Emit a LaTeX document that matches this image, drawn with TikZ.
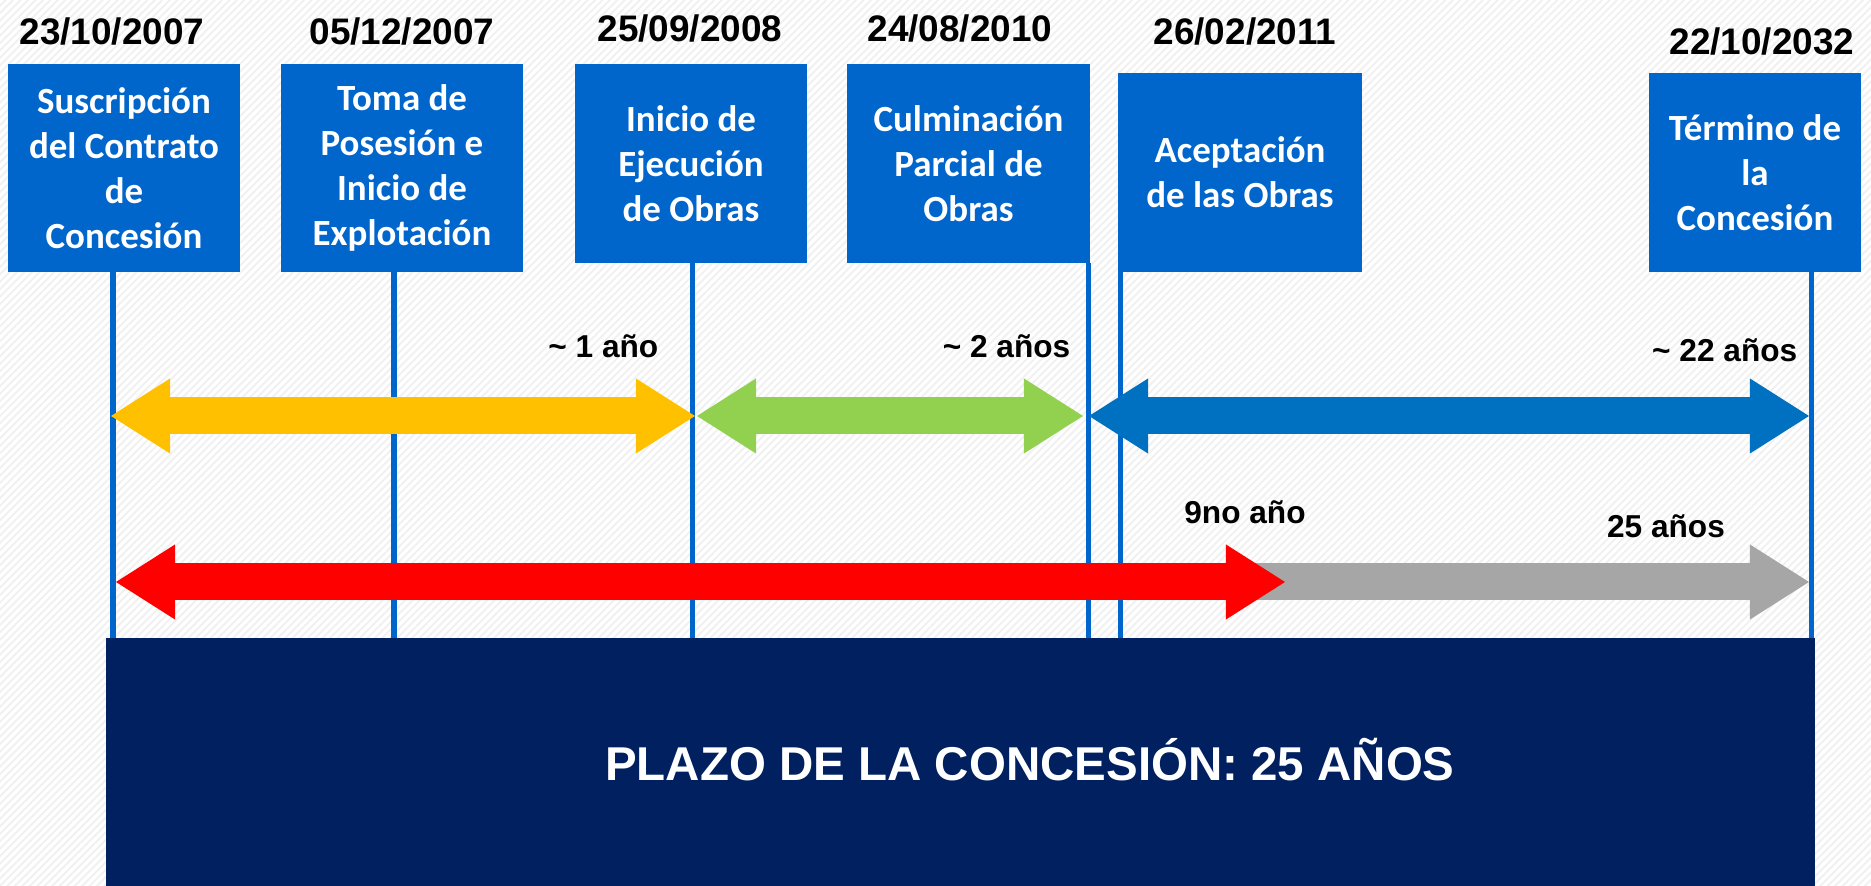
\documentclass[tikz,border=0pt]{standalone}
\usepackage{fontspec}
\setmainfont{Liberation Sans}
\newfontfamily\calibri{Carlito}
\usepackage{xcolor}
\usepackage{tikz}
\usetikzlibrary{arrows.meta}
\usetikzlibrary{patterns.meta}
\usetikzlibrary{positioning, calc}
\definecolor{azulhito}{RGB}{0,102,204}
\definecolor{amarillo}{RGB}{255,192,0}
\definecolor{verde}{RGB}{146,208,80}
\definecolor{azulflecha}{RGB}{0,112,192}
\definecolor{rojo}{RGB}{255,0,0}
\definecolor{gris}{RGB}{166,166,166}
\definecolor{marino}{RGB}{0,32,96}

\begin{document}
\begin{tikzpicture}[x=0.01cm, y=-0.01cm,
    hito/.style={fill=azulhito, text=white, inner sep=0pt, align=center,
        font=\calibri\bfseries\fontsize{10.5}{12.8}\selectfont},
    fecha/.style={anchor=base, inner sep=0pt, font=\bfseries\fontsize{10.5}{12}\selectfont},
    etiqueta/.style={inner sep=0pt, font=\bfseries\fontsize{9}{11}\selectfont},
    linea/.style={azulhito, line width=0.05cm},
    punta/.tip={Triangle[length=0.59cm, width=0.75cm, line width=0pt]},
    flecha/.style={line width=0.37cm, punta-punta},
    flechader/.style={line width=0.37cm, -punta}]

    % FONDO
    \fill[white] (0,0) rectangle (1871,886);
    \fill[pattern={Lines[angle=45, distance=1.5pt, line width=0.5pt]}, pattern color=black!6]
        (0,0) rectangle (1871,886);
    \useasboundingbox (0,0) rectangle (1871,886);

    % PLAZO TOTAL
    \node[fill=marino, minimum width=17.08cm, minimum height=2.48cm, inner sep=0pt]
        (plazo) at (960,762) {};
    \node[anchor=base, inner sep=0pt, text=white, font=\bfseries\fontsize{13.5}{16}\selectfont]
        (plazotexto) at (1030,781) {PLAZO DE LA CONCESIÓN: 25 AÑOS};

    % LINEAS VERTICALES
    \foreach \n/\x/\y in {
        1/113/272, 2/394/272, 3/692/263,
        4/1088/263, 5/1120/263, 6/1811/272}
    {
        \coordinate (arriba\n) at (\x,\y);
        \coordinate (abajo\n) at (\x,638);
        \draw[linea] (arriba\n) -- (abajo\n);
    }

    % HITOS
    \foreach \n/\x/\y/\w/\h/\m in {
        1/124/168/2.32/2.08/{Suscripción\\del Contrato\\de\\Concesión},
        2/402/168/2.42/2.08/{Toma de\\Posesión e\\Inicio de\\Explotación},
        3/691/163.5/2.32/1.99/{Inicio de\\Ejecución\\de Obras},
        4/968.5/163.5/2.43/1.99/{Culminación\\Parcial de\\Obras},
        5/1240/172.5/2.44/1.99/{Aceptación\\de las Obras},
        6/1755/172.5/2.12/1.99/{Término de\\la\\Concesión}}
        \node[hito, minimum width=\w cm, minimum height=\h cm] (hito\n) at (\x,\y) {\m};

    % FECHAS
    \foreach \n/\x/\y/\m in {
        1/112/45/{23/10/2007}, 2/402/45/{05/12/2007},
        3/690/42/{25/09/2008}, 4/960/42/{24/08/2010},
        5/1245/45/{26/02/2011}, 6/1762/55/{22/10/2032}}
        \node[fecha] (fecha\n) at (\x,\y) {\m};

    % FLECHAS
    \coordinate (am1) at (111,416);
    \coordinate (am2) at (695,416);
    \coordinate (ve1) at (697,416);
    \coordinate (ve2) at (1083,416);
    \coordinate (az1) at (1089,416);
    \coordinate (az2) at (1809,416);
    \coordinate (gr1) at (1230,582);
    \coordinate (gr2) at (1809,582);
    \coordinate (ro1) at (116,582);
    \coordinate (ro2) at (1285,582);

    \draw[flecha, amarillo] (am1) -- (am2);
    \draw[flecha, verde] (ve1) -- (ve2);
    \draw[flecha, azulflecha] (az1) -- (az2);
    \draw[flechader, gris] (gr1) -- (gr2);
    \draw[flecha, rojo] (ro1) -- (ro2);

    % DURACIONES
    \node[etiqueta, anchor=base east] (dur1) at (659,358) {\textasciitilde{} 1 año};
    \node[etiqueta, anchor=base east] (dur2) at (1071,358) {\textasciitilde{} 2 años};
    \node[etiqueta, anchor=base east] (dur3) at (1798,362) {\textasciitilde{} 22 años};
    \node[etiqueta, anchor=base] (dur4) at (1245,524) {9no año};
    \node[etiqueta, anchor=base] (dur5) at (1666,538) {25 años};

\end{tikzpicture}
\end{document}
